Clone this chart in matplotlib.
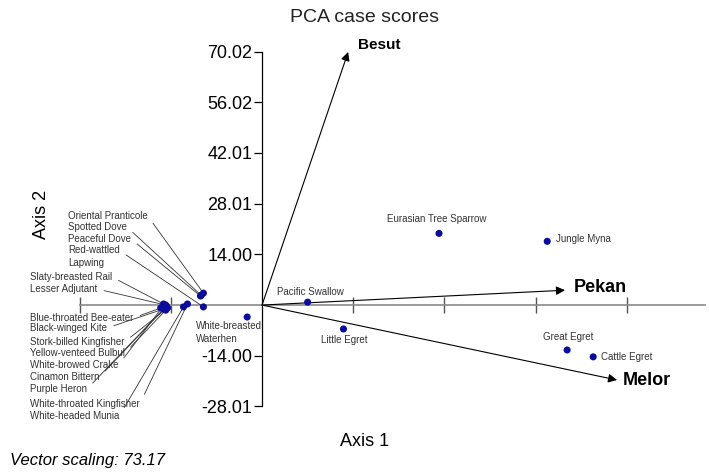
import numpy as np
import matplotlib
matplotlib.use("Agg")
import matplotlib.pyplot as plt

plt.rcParams['font.family'] = ['Liberation Sans', 'DejaVu Sans']

# PCA case scores (same units as axis 2)
species = ["Pacific Swallow", "Eurasian Tree Sparrow", "Jungle Myna", "Little Egret",
           "Great Egret", "Cattle Egret", "White-breasted\nWaterhen"]
sp_x = [12.6, 48.9, 78.8, 22.5, 84.3, 91.5, -4.1]
sp_y = [0.8, 19.8, 17.6, -6.6, -12.4, -14.3, -3.3]

# crowded group on the left, labelled with leader lines
cluster = ["Oriental Pranticole", "Spotted Dove", "Peaceful Dove", "Red-wattled\nLapwing",
           "Slaty-breasted Rail", "Lesser Adjutant", "Blue-throated Bee-eater",
           "Black-winged Kite", "Stork-billed Kingfisher", "Yellow-venteed Bulbul",
           "White-browed Crake", "Cinamon Bittern", "Purple Heron",
           "White-throated Kingfisher", "White-headed Munia"]
cl_x = [-16.2, -16.8, -17.0, -16.2, -27.2, -26.6, -28.0, -27.2, -26.1, -26.6,
        -27.5, -26.4, -26.9, -20.6, -21.7]
cl_y = [3.3, 2.7, 2.5, -0.5, 0.3, 0.0, -0.8, -1.1, -0.8, -1.4,
        -0.5, -0.3, -0.8, 0.3, -0.5]

# site vectors
sites = ["Besut", "Pekan", "Melor"]
vec_x = [23.8, 83.7, 98.1]
vec_y = [69.9, 4.1, -20.7]

y_ticks = [-28.01, -14.00, 14.00, 28.01, 42.01, 56.02, 70.02]
x_ticks = [-50.4, -25.2, 25.2, 50.4, 75.6, 100.8]

fig = plt.figure(figsize=(7.09, 4.72), dpi=100)
ax = fig.add_axes([0, 0, 1, 1])
ax.set_xlim(-72.4, 123.5)
ax.set_ylim(-46.1, 84.25)

for s in ['top', 'right']:
    ax.spines[s].set_visible(False)
ax.spines['left'].set_position(('data', 0))
ax.spines['left'].set_bounds(-28.01, 70.02)
ax.spines['left'].set_linewidth(0.9)
ax.spines['bottom'].set_position(('data', 0))
ax.spines['bottom'].set_bounds(-50.4, 122.5)
ax.spines['bottom'].set_color('#8a8a8a')
ax.spines['bottom'].set_linewidth(1.2)

ax.set_yticks(y_ticks)
ax.set_yticklabels([f"{v:.2f}" for v in y_ticks])
ax.tick_params(axis='y', direction='out', length=6, width=0.9, labelsize=13,
               pad=1, colors='black')
ax.set_xticks(x_ticks)
ax.set_xticklabels([])
ax.tick_params(axis='x', direction='inout', length=11, width=1.0, color='#555555')

pt_color = '#0b0b9c'

# vectors
for name, vx, vy in zip(sites, vec_x, vec_y):
    ax.annotate('', xy=(vx, vy), xytext=(0, 0),
                arrowprops=dict(arrowstyle='-|>', lw=0.8, color='black',
                                mutation_scale=13, shrinkA=0, shrinkB=0))
size = {"Besut": 11, "Pekan": 13, "Melor": 13}
offs = {"Besut": (7, 5), "Pekan": (6, 2), "Melor": (4, 0)}
for name, vx, vy in zip(sites, vec_x, vec_y):
    ax.annotate(name, xy=(vx, vy), xytext=offs[name], textcoords='offset points',
                fontsize=size[name], fontweight='bold', ha='left', va='center')

# points
ax.scatter(sp_x + cl_x, sp_y + cl_y, s=26, color=pt_color, zorder=5, edgecolors='none')

lab_off = [(2, 7.5, 'center'), (-1.5, 10, 'center'), (6.5, 2, 'left'), (0.7, -8, 'center'),
           (0.7, 9.4, 'center'), (5.8, 0, 'left'), (-37, -11, 'left')]
for name, x, y, (dx, dy, ha) in zip(species, sp_x, sp_y, lab_off):
    ax.annotate(name, xy=(x, y), xytext=(dx, dy), textcoords='offset points',
                fontsize=7, ha=ha, va='center', color='#333333', linespacing=1.4)

# leader-line labels, positions in figure pixels
lab_pos = [(68, 256), (68, 245), (68, 233), (68, 215.5), (30, 195), (30, 183),
           (30, 154), (30, 144), (30, 130), (30, 119), (30, 107), (30, 95),
           (30, 83), (30, 68), (30, 56)]
for name, x, y, (tx, ty) in zip(cluster, cl_x, cl_y, lab_pos):
    rel = (1, 0.75) if '\n' in name else (1, 0.5)
    ax.annotate(name, xy=(x, y), xytext=(tx, ty), textcoords='figure pixels',
                fontsize=7, ha='left', va='center', color='#333333', linespacing=1.4,
                arrowprops=dict(arrowstyle='-', lw=0.6, color='#333333',
                                shrinkA=3, shrinkB=2, relpos=rel))

fig.text(365 / 709, 1 - 18 / 472, "PCA case scores", fontsize=14, ha='center', va='center',
         color='#222222')
fig.text(365 / 709, 1 - 442 / 472, "Axis 1", fontsize=13, ha='center', va='center')
fig.text(42 / 709, 1 - 214 / 472, "Axis 2", fontsize=13, ha='center', va='center',
         rotation=90)
fig.text(10 / 709, 1 - 460 / 472, "Vector scaling: 73.17", fontsize=12, ha='left',
         va='center', style='italic')

fig.savefig("out.png", dpi=100)
